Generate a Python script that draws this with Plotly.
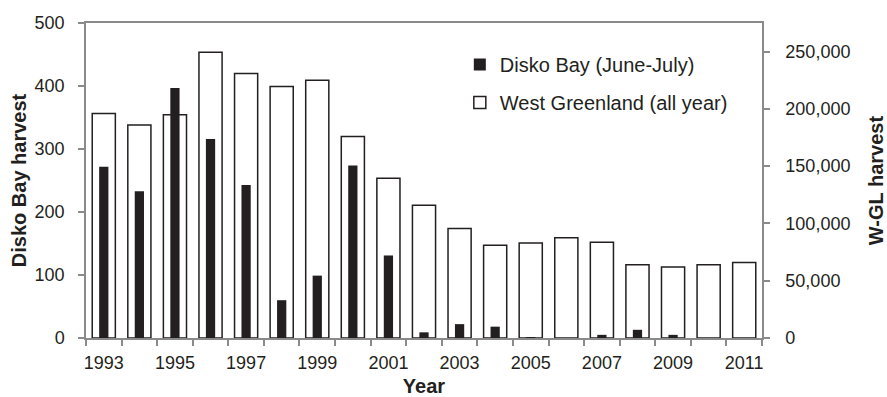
import plotly.graph_objects as go

# Harvest by year
years = list(range(1993, 2012))
disko_bay = [272, 233, 397, 316, 243, 60, 99, 274, 131, 9, 22, 18, 1, 0, 5, 13, 5, 0, 0]
west_greenland = [196000, 186000, 195000, 249500, 231000, 219500, 225000, 176000, 139500,
                  116000, 95500, 81000, 83000, 87500, 83500, 64000, 62000, 64000, 66000]

label_years = list(range(1993, 2012, 2))
boundaries = [y - 0.5 for y in years] + [years[-1] + 0.5]

AXIS_GREY = "#8a8a8a"
INK = "#231f20"
FONT = "Liberation Sans, Arial, sans-serif"

fig = go.Figure()

# Disko Bay bars live on the overlaying (left) axis so they sit in front
fig.add_trace(go.Bar(
    x=years, y=disko_bay, name="Disko Bay (June-July)",
    yaxis="y2", width=0.26,
    marker=dict(color=INK, line=dict(color=INK, width=0)),
    legendgroup="a",
))
# West Greenland bars on the base (right) axis
fig.add_trace(go.Bar(
    x=years, y=west_greenland, name="West Greenland (all year)",
    yaxis="y", width=0.65,
    marker=dict(color="white", line=dict(color=INK, width=1.5)),
    legendgroup="b",
))

fig.update_layout(
    width=887, height=397,
    margin=dict(l=86, r=125, t=23, b=59),
    paper_bgcolor="white", plot_bgcolor="white",
    barmode="overlay",
    font=dict(family=FONT, size=18, color="#231f20"),
    showlegend=True,
    legend=dict(
        x=0.553, y=0.93, xanchor="left", yanchor="top",
        bgcolor="rgba(0,0,0,0)", font=dict(size=20),
        tracegroupgap=9, traceorder="grouped",
    ),
    xaxis=dict(
        range=[1992.5, 2011.5], automargin=False,
        tickvals=label_years, ticktext=[str(y) for y in label_years],
        ticks="", showgrid=False, zeroline=False,
        showline=True, linecolor=AXIS_GREY, linewidth=1.5, mirror=True,
        minor=dict(tickvals=boundaries, ticks="outside", ticklen=6,
                   tickcolor=AXIS_GREY, tickwidth=1.5, showgrid=False),
        ticklabelstandoff=8,
        title=dict(text="<b>Year</b>", font=dict(size=20), standoff=14),
    ),
    yaxis=dict(
        side="right", range=[0, 275000], automargin=False,
        tickvals=[0, 50000, 100000, 150000, 200000, 250000],
        tickformat=",d",
        ticks="outside", ticklen=6, tickcolor=AXIS_GREY, tickwidth=1.5,
        showgrid=False, zeroline=False,
        showline=True, linecolor=AXIS_GREY, linewidth=1.5,
        ticklabelstandoff=12,
        title=dict(text="<b>W-GL harvest</b>", font=dict(size=20), standoff=22),
    ),
    yaxis2=dict(
        overlaying="y", side="left", range=[0, 500], automargin=False,
        tickvals=[0, 100, 200, 300, 400, 500],
        ticks="outside", ticklen=6, tickcolor=AXIS_GREY, tickwidth=1.5,
        showgrid=False, zeroline=False,
        showline=True, linecolor=AXIS_GREY, linewidth=1.5,
        ticklabelstandoff=10,
        title=dict(text="<b>Disko Bay harvest</b>", font=dict(size=20), standoff=3),
    ),
)

fig.write_html("out.html")
